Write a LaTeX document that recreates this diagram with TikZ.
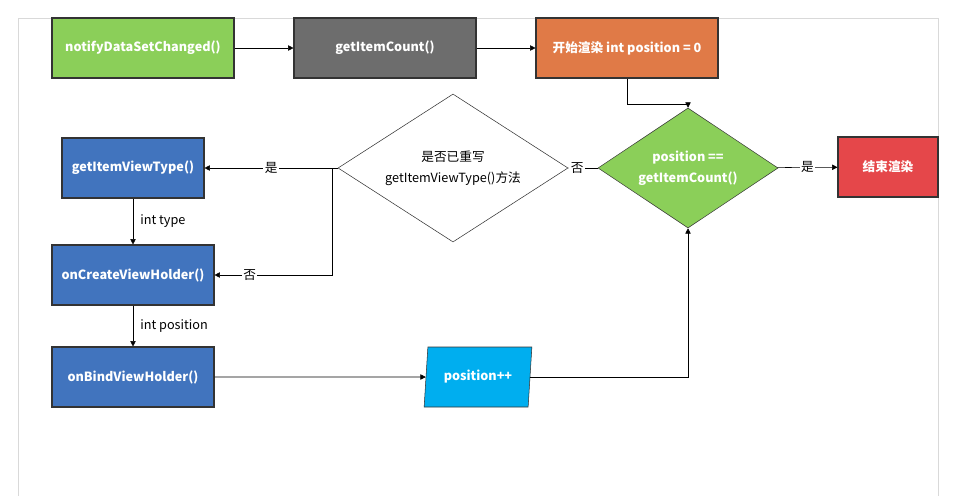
\documentclass[tikz,border=0pt]{standalone}
\usepackage{fontspec}
\setmainfont{Noto Sans CJK SC}
\usetikzlibrary{shapes.geometric,arrows.meta}
\definecolor{cgreen}{HTML}{8BCF59}
\definecolor{cgray}{HTML}{6D6D6D}
\definecolor{corange}{HTML}{E07A47}
\definecolor{cred}{HTML}{E5474A}
\definecolor{cblue}{HTML}{4174BE}
\definecolor{ccyan}{HTML}{00AEEF}
\begin{document}
\begin{tikzpicture}[x=0.75pt,y=-0.75pt,
  box/.style={draw=black!80,thick,minimum width=182*0.75pt,minimum height=60*0.75pt,text=white,font=\bfseries\fontsize{9.5}{11}\selectfont,inner sep=0pt},
  dia/.style={diamond,draw=black!80,aspect=1.5,inner sep=0pt,align=center,font=\fontsize{9.5}{12}\selectfont},
  arr/.style={-{Triangle[length=4pt,width=4pt]},thin},
  lab/.style={fill=white,inner sep=1pt,font=\fontsize{9.5}{11}\selectfont}]
\useasboundingbox (0,0) rectangle (960,496);
\draw[black!15] (18,496) -- (18,18) -- (938,18) -- (938,496);
\node[box,fill=cgreen] (n) at (143,48) {notifyDataSetChanged()};
\node[box,fill=cgray] (c) at (385,48) {getItemCount()};
\node[box,fill=corange] (s) at (627,48) {开始渲染 int position = 0};
\node[dia,fill=cgreen,text=white,font=\bfseries\fontsize{9.5}{16}\selectfont,minimum width=180*0.75pt,minimum height=120*0.75pt] (g) at (688,168) {position ==\\getItemCount()};
\node[box,fill=cred,minimum width=100*0.75pt] (e) at (888,167) {结束渲染};
\node[dia,fill=white,minimum width=230*0.75pt,minimum height=148*0.75pt,font=\fontsize{9.5}{16}\selectfont] (w) at (453,168) {是否已重写\\getItemViewType()方法};
\node[box,fill=cblue,minimum width=142*0.75pt] (t) at (133,168) {getItemViewType()};
\node[box,fill=cblue,minimum width=162*0.75pt] (o) at (133,275) {onCreateViewHolder()};
\node[box,fill=cblue,minimum width=162*0.75pt] (b) at (133,377) {onBindViewHolder()};
\node[trapezium,trapezium left angle=79,trapezium right angle=101,draw=black!80,fill=ccyan,text=white,font=\bfseries\fontsize{9.5}{11}\selectfont,minimum width=108*0.75pt,minimum height=60*0.75pt,inner sep=0pt,trapezium stretches=true] (p) at (478,377) {position++};
\draw[arr] (n) -- (c);
\draw[arr] (c) -- (s);
\draw[arr] (s.south) |- (688,104) -- (g.north);
\draw[arr] (g) -- node[lab]{是} (e);
\draw[arr] (g) -- node[lab,pos=0.7]{否} (w);
\draw[arr] (w.west) -- node[lab,pos=0.5]{是} (t);
\draw[arr] (332,168) |- node[lab,pos=0.85]{否} (o.east);
\draw[arr] (t) -- node[right,font=\fontsize{9.5}{11}\selectfont,xshift=2pt]{int type} (o);
\draw[arr] (o) -- node[right,font=\fontsize{9.5}{11}\selectfont,xshift=2pt]{int position} (b);
\draw[arr] (b) -- (p);
\draw[arr] (p.east) -| (g.south);
\end{tikzpicture}
\end{document}
